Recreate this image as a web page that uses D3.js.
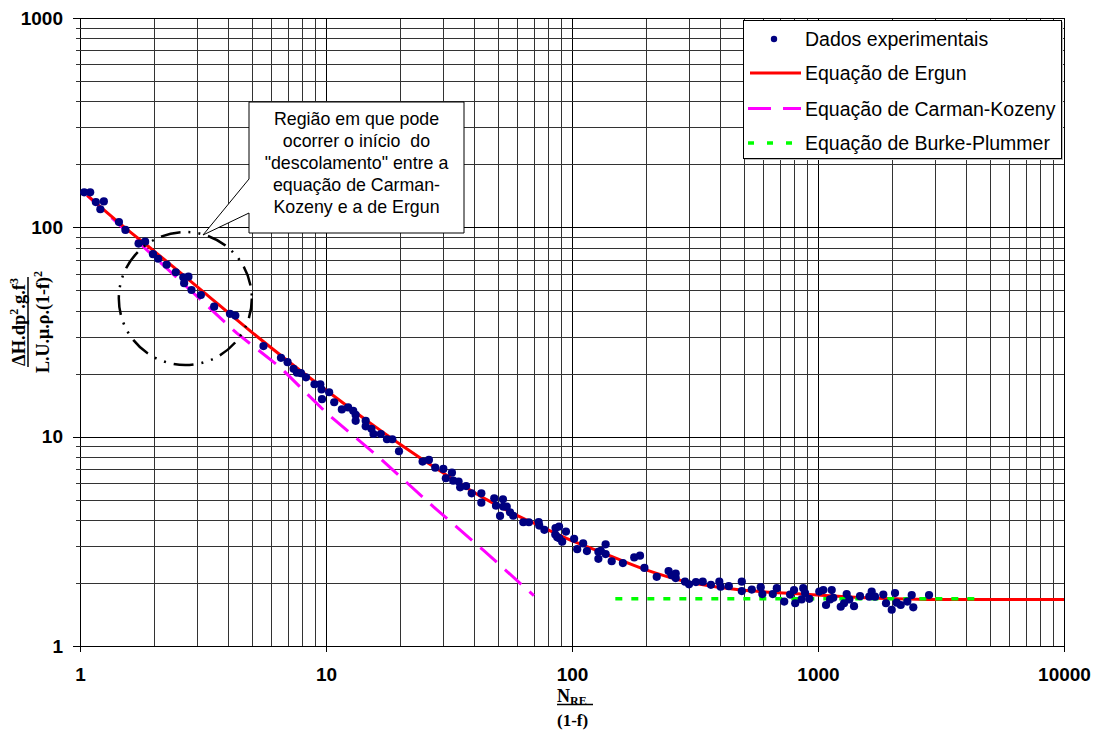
<!DOCTYPE html>
<html>
<head>
<meta charset="utf-8">
<title>Ergun</title>
<script src="https://cdn.jsdelivr.net/npm/d3@7"></script>
<style>
body { margin: 0; background: #fff; }
svg { display: block; font-family: "Liberation Sans", Arial, sans-serif; }
</style>
</head>
<body>
<script>
// experimental points (N_RE/(1-f), dimensionless pressure drop)
var expX = [1.04,1.10,1.16,1.21,1.25,1.44,1.53,1.73,1.84,1.98,
    2.08,2.25,2.45,2.63,2.76,2.65,2.84,3.10,3.51,4.07,
    4.28,5.57,6.56,6.98,7.38,7.62,7.91,8.29,8.98,9.48,
    9.59,10.3,9.63,10.8,11.6,12.3,12.9,13.2,13.2,14.5,
    14.5,15.3,15.6,16.7,17.7,18.6,19.8,24.7,26.2,27.8,
    30.0,32.5,30.7,32.9,34.6,35.1,37.1,39.1,42.8,42.8,
    48.3,52.4,49.1,52.6,54.3,51.0,56.0,57.7,63.4,66.8,
    73.2,73.6,77.2,85.7,88.6,85.5,94.5,87.1,88.8,91.2,
    102,105,111,115,128,131,128,137,137,145,
    161,179,189,197,221,247,254,264,264,288,
    299,319,340,367,397,402,434,490,490,538,
    585,594,655,680,729,770,799,808,858,871,
    886,922,1012,1051,1078,1119,1137,1154,1237,1276,
    1308,1341,1401,1482,1616,1653,1705,1843,1890,1994,
    2056,2089,2169,2307,2404,2440,2827];
var expY = [147,147,132,122,133,106,97.2,83.6,85.4,74.4,
    70.8,66.3,61.0,57.7,58.1,54.1,50.2,47.5,41.8,38.6,
    37.9,27.1,23.8,22.7,21.1,20.2,20.1,19.2,17.8,17.8,
    16.8,16.3,15.1,14.6,13.5,13.8,13.3,12.7,11.9,11.9,
    11.2,10.9,10.3,10.3,9.72,9.72,8.52,7.60,7.74,7.11,
    7.01,6.73,6.33,6.16,6.10,5.73,5.81,5.36,5.36,4.84,
    5.08,5.02,4.68,4.63,4.63,4.18,4.35,4.19,3.90,3.90,
    3.91,3.76,3.59,3.66,3.72,3.41,3.52,3.31,3.27,3.15,
    3.25,2.90,3.09,2.84,2.82,2.85,2.61,3.06,2.75,2.54,
    2.49,2.65,2.70,2.36,2.14,2.28,2.18,2.22,2.11,2.03,
    1.97,2.02,2.03,1.96,2.03,1.92,1.93,2.03,1.83,1.86,
    1.91,1.77,1.77,1.89,1.63,1.76,1.85,1.60,1.67,1.89,
    1.79,1.68,1.82,1.85,1.57,1.67,1.85,1.70,1.54,1.60,
    1.77,1.67,1.55,1.73,1.72,1.82,1.72,1.76,1.60,1.49,
    1.79,1.61,1.57,1.63,1.75,1.53,1.75];

var ergunX = [1.07,1.5,2,3,5,7,10,15,20,30,45,60,70,95,130,200,290,450,850,1300,3000,10000];
var ergunY = [142,101,77,52,31.5,23,16.7,11.7,9.2,6.7,5.0,4.2,3.86,3.27,2.82,2.31,2.03,1.87,1.77,1.72,1.67,1.67];

var ckX = [1.07,2,4.34,6.5,10.1,16.6,27.3,43.6,70];
var ckY = [142,72.5,31.2,21.5,12.9,7.88,4.63,2.87,1.74];

var bpX = [150,4500];
var bpY = [1.68,1.68];

var xMajor = [1,10,100,1000,10000];
var yMajor = [1,10,100,1000];

var legendNames = ["Dados experimentais","Equação de Ergun","Equação de Carman-Kozeny","Equação de Burke-Plummer"];
var noteLines = ["Região em que pode","ocorrer o início  do","\"descolamento\" entre a","equação de Carman-","Kozeny e a de Ergun"];

var width = 1095, height = 732;
var plotLeft = 80, plotTop = 18, plotW = 984, plotH = 628;

var svg = d3.select("body").append("svg")
    .attr("width", width)
    .attr("height", height);

var x = d3.scaleLog().domain([1, 10000]).range([plotLeft, plotLeft + plotW]);
var y = d3.scaleLog().domain([1, 1000]).range([plotTop + plotH, plotTop]);

function minors(majors) {
    var out = [];
    majors.forEach(function (m, i) {
        if (i == majors.length - 1) { out.push(m); return; }
        for (var k = 1; k < 10; k++) out.push(m * k);
    });
    return out;
}
var xAll = minors(xMajor), yAll = minors(yMajor);
function isMajor(v) { return Math.abs(Math.log10(v) - Math.round(Math.log10(v))) < 1e-9; }

// grid + ticks
var gx = svg.append("g")
    .attr("transform", "translate(0," + (plotTop + plotH) + ")")
    .call(d3.axisBottom(x).tickValues(xAll).tickSizeInner(-plotH).tickSizeOuter(0).tickFormat(""));
gx.select(".domain").remove();
gx.selectAll(".tick line")
    .attr("y1", function (d) { return isMajor(d) ? 6 : 0; })
    .attr("stroke", function (d) { return isMajor(d) ? "#000" : "#333"; })
    .attr("shape-rendering", "crispEdges");

var gy = svg.append("g")
    .attr("transform", "translate(" + plotLeft + ",0)")
    .call(d3.axisLeft(y).tickValues(yAll).tickSizeInner(-plotW).tickSizeOuter(0).tickFormat(""));
gy.select(".domain").remove();
gy.selectAll(".tick line")
    .attr("x1", function (d) { return isMajor(d) ? -7 : -4; })
    .attr("stroke", function (d) { return isMajor(d) ? "#000" : "#333"; })
    .attr("shape-rendering", "crispEdges");

// tick labels
var lx = svg.append("g")
    .attr("transform", "translate(0," + (plotTop + plotH) + ")")
    .call(d3.axisBottom(x).tickValues(xMajor).tickSize(0).tickPadding(22).tickFormat(d3.format("d")));
lx.select(".domain").remove();
lx.selectAll("text").attr("font-size", 19).attr("font-weight", "bold").attr("fill", "#000")
    .attr("font-family", "'Liberation Sans', Arial, sans-serif");

var ly = svg.append("g")
    .attr("transform", "translate(" + plotLeft + ",0)")
    .call(d3.axisLeft(y).tickValues(yMajor).tickSize(0).tickPadding(17).tickFormat(d3.format("d")));
ly.select(".domain").remove();
ly.selectAll("text").attr("font-size", 19).attr("font-weight", "bold").attr("fill", "#000")
    .attr("font-family", "'Liberation Sans', Arial, sans-serif");

// series lines
function lineOf(xs, ys, curve) {
    return d3.line()
        .x(function (i) { return x(xs[i]); })
        .y(function (i) { return y(ys[i]); })
        .curve(curve || d3.curveLinear)(d3.range(xs.length));
}

svg.append("path")
    .attr("d", lineOf(ckX, ckY))
    .attr("fill", "none")
    .attr("stroke", "#ff00ff")
    .attr("stroke-width", 3)
    .attr("stroke-dasharray", "22,11");

svg.append("path")
    .attr("d", lineOf(ergunX, ergunY, d3.curveMonotoneX))
    .attr("fill", "none")
    .attr("stroke", "#ff0000")
    .attr("stroke-width", 3);

svg.append("path")
    .attr("d", lineOf(bpX, bpY))
    .attr("fill", "none")
    .attr("stroke", "#00ff00")
    .attr("stroke-width", 3.5)
    .attr("stroke-dasharray", "7,9");

svg.append("g").selectAll("circle")
    .data(d3.range(expX.length))
    .enter()
    .append("circle")
    .attr("cx", function (i) { return x(expX[i]); })
    .attr("cy", function (i) { return y(expY[i]); })
    .attr("r", 4.1)
    .attr("fill", "#000080");

// dash-dot-dot circle marking the region
svg.append("circle")
    .attr("cx", x(2.68))
    .attr("cy", y(45.7))
    .attr("r", 66.5)
    .attr("fill", "none")
    .attr("stroke", "#000")
    .attr("stroke-width", 2.5)
    .attr("stroke-dasharray", "20,8,2,8,2,8");

// callout
svg.append("path")
    .attr("d", "M249,102 H464 V233 H249 V213 L203,235 L249,179 Z")
    .attr("fill", "#fff")
    .attr("stroke", "#000")
    .attr("stroke-width", 1);

svg.append("g").selectAll("text")
    .data(noteLines)
    .enter()
    .append("text")
    .attr("x", 356.5)
    .attr("y", function (d, i) { return 125 + i * 22; })
    .attr("text-anchor", "middle")
    .attr("font-size", 17.8)
    .style("white-space", "pre")
    .text(function (d) { return d; });

// legend
svg.append("rect")
    .attr("x", 745).attr("y", 22).attr("width", 318).attr("height", 138)
    .attr("fill", "#bbb");
svg.append("rect")
    .attr("x", 743.5).attr("y", 20.5).attr("width", 318).attr("height", 138)
    .attr("fill", "#fff")
    .attr("stroke", "#000");

var legY = [39, 73, 108.5, 143];
svg.append("circle").attr("cx", 774).attr("cy", legY[0]).attr("r", 3.2).attr("fill", "#000080");
svg.append("line").attr("x1", 750).attr("x2", 801).attr("y1", legY[1]).attr("y2", legY[1])
    .attr("stroke", "#ff0000").attr("stroke-width", 3);
svg.append("line").attr("x1", 748).attr("x2", 801).attr("y1", legY[2]).attr("y2", legY[2])
    .attr("stroke", "#ff00ff").attr("stroke-width", 3).attr("stroke-dasharray", "23,12");
svg.append("line").attr("x1", 748).attr("x2", 801).attr("y1", legY[3]).attr("y2", legY[3])
    .attr("stroke", "#00ff00").attr("stroke-width", 3.5).attr("stroke-dasharray", "6,13");

svg.append("g").selectAll("text")
    .data(legendNames)
    .enter()
    .append("text")
    .attr("x", 805)
    .attr("y", function (d, i) { return legY[i] + 7; })
    .attr("font-size", 19.5)
    .text(function (d) { return d; });

// axis titles
var serif = "'Liberation Serif', 'Times New Roman', serif";
var xt = svg.append("text")
    .attr("x", 557).attr("y", 702)
    .attr("font-family", serif).attr("font-weight", "bold").attr("font-size", 18);
xt.append("tspan").text("N");
xt.append("tspan").attr("dy", 3).attr("font-size", 12).text("RE");
svg.append("line").attr("x1", 557).attr("x2", 593).attr("y1", 704.5).attr("y2", 704.5)
    .attr("stroke", "#000").attr("stroke-width", 1.5);
svg.append("text")
    .attr("x", 557).attr("y", 726)
    .attr("font-family", serif).attr("font-weight", "bold").attr("font-size", 17)
    .text("(1-f)");

var yt = svg.append("g").attr("transform", "translate(0,322) rotate(-90)");
var num = yt.append("text")
    .attr("x", 0).attr("y", 25)
    .attr("text-anchor", "middle")
    .attr("font-family", serif).attr("font-weight", "bold").attr("font-size", 18.5);
num.append("tspan").text("ΔH.dp");
num.append("tspan").attr("dy", -7).attr("font-size", 12).text("2");
num.append("tspan").attr("dy", 7).text(".g.f");
num.append("tspan").attr("dy", -7).attr("font-size", 12).text("3");
yt.append("line").attr("x1", -45).attr("x2", 45).attr("y1", 28).attr("y2", 28)
    .attr("stroke", "#000").attr("stroke-width", 1.5);
var den = yt.append("text")
    .attr("x", 0).attr("y", 49)
    .attr("text-anchor", "middle")
    .attr("font-family", serif).attr("font-weight", "bold").attr("font-size", 18);
den.append("tspan").text("L.U.μ.ρ.(1-f)");
den.append("tspan").attr("dy", -7).attr("font-size", 12).text("2");
</script>
</body>
</html>
